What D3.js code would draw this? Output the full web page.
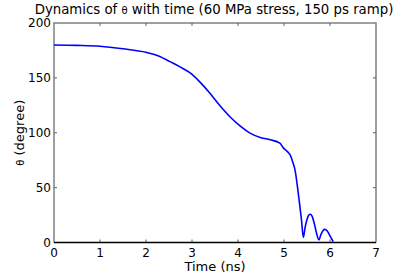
<!DOCTYPE html>
<html>
<head>
<meta charset="utf-8">
<script src="https://cdn.jsdelivr.net/npm/d3@7"></script>
<style>
  body { margin: 0; background: #fff; }
  text { font-family: "DejaVu Sans", Verdana, sans-serif; fill: #000; }
</style>
</head>
<body>
<div id="chart"></div>
<script>
// values
var time = [0, 0.5, 1, 1.5, 2, 2.3, 2.52, 2.74, 2.96, 3.2, 3.39, 3.6, 3.83, 4.05, 4.26, 4.5, 4.7, 4.91, 4.99, 5.07, 5.13, 5.2, 5.24, 5.31, 5.38, 5.42, 5.46, 5.5, 5.54, 5.57, 5.61, 5.66, 5.71, 5.76, 5.8, 5.85, 5.89, 5.94, 6.0, 6.07];
var theta = [180, 179.6, 178.8, 176.5, 173.3, 169.5, 164.8, 160, 154.5, 145, 136, 125, 114.3, 106, 99.7, 95.5, 93.6, 90.6, 86, 83, 80, 72, 66, 45, 20.5, 4.7, 14, 21, 25, 25.7, 24, 17, 8, 2.3, 7, 11, 12, 10.5, 6, 0.7];
var xTicks = [0, 1, 2, 3, 4, 5, 6, 7];
var yTicks = [0, 50, 100, 150, 200];

var width = 415,
    height = 277;
var mLeft = 54, mRight = 376, mTop = 23, mBottom = 242.5;

var svg = d3.select("#chart")
    .append("svg")
    .attr("width", width)
    .attr("height", height);

var x = d3.scaleLinear().domain([0, 7]).range([mLeft, mRight]);
var y = d3.scaleLinear().domain([0, 200]).range([mBottom, mTop]);

var data = time.map((t, i) => ({ t: t, v: theta[i] }));

/* BOX: gray left/top/right, black bottom */
svg.append("path")
    .attr("d", `M${mLeft},${mBottom}V${mTop}H${mRight}V${mBottom}`)
    .attr("fill", "none")
    .attr("stroke", "#808080")
    .attr("stroke-width", 1.5);

/* TICKS (inside, mirrored) */
var g = svg.append("g").attr("stroke", "#606060").attr("stroke-width", 1);
xTicks.slice(1, -1).forEach(function(d) {
    g.append("line").attr("x1", x(d)).attr("x2", x(d)).attr("y1", mBottom).attr("y2", mBottom - 3);
    g.append("line").attr("x1", x(d)).attr("x2", x(d)).attr("y1", mTop).attr("y2", mTop + 3);
});
yTicks.slice(1, -1).forEach(function(d) {
    g.append("line").attr("y1", y(d)).attr("y2", y(d)).attr("x1", mLeft).attr("x2", mLeft + 3);
    g.append("line").attr("y1", y(d)).attr("y2", y(d)).attr("x1", mRight).attr("x2", mRight - 3);
});

svg.append("line")
    .attr("x1", mLeft).attr("x2", mRight)
    .attr("y1", mBottom).attr("y2", mBottom)
    .attr("stroke", "#000")
    .attr("stroke-width", 1.5);

/* TICK LABELS */
svg.append("g").selectAll("text")
    .data(xTicks)
    .enter()
    .append("text")
        .attr("x", d => x(d))
        .attr("y", mBottom + 14)
        .attr("text-anchor", "middle")
        .style("font-size", "12px")
        .text(d => d);

svg.append("g").selectAll("text")
    .data(yTicks)
    .enter()
    .append("text")
        .attr("x", mLeft - 3)
        .attr("y", d => y(d) + 4)
        .attr("text-anchor", "end")
        .style("font-size", "12px")
        .text(d => d);

/* CURVE */
var line = d3.line()
    .curve(d3.curveMonotoneX)
    .x(d => x(d.t))
    .y(d => y(d.v));

svg.append("path")
    .datum(data)
    .attr("d", line)
    .attr("fill", "none")
    .attr("stroke", "#0000ff")
    .attr("stroke-width", 1.6)
    .attr("stroke-linejoin", "round");

/* LABELS */
var title = svg.append("text")
    .attr("x", 214)
    .attr("y", 14)
    .attr("text-anchor", "middle")
    .style("font-size", "13.3px");
title.append("tspan").text("Dynamics of ");
title.append("tspan").style("font-size", "10px").text("θ");
title.append("tspan").text(" with time (60 MPa stress, 150 ps ramp)");

svg.append("text")
    .attr("x", (mLeft + mRight) / 2)
    .attr("y", 271)
    .attr("text-anchor", "middle")
    .style("font-size", "13px")
    .text("Time (ns)");

var ylab = svg.append("text")
    .attr("transform", `translate(24,${(mTop + mBottom) / 2}) rotate(-90)`)
    .attr("text-anchor", "middle")
    .style("font-size", "13px");
ylab.append("tspan").style("font-size", "10px").text("θ");
ylab.append("tspan").text(" (degree)");
</script>
</body>
</html>
